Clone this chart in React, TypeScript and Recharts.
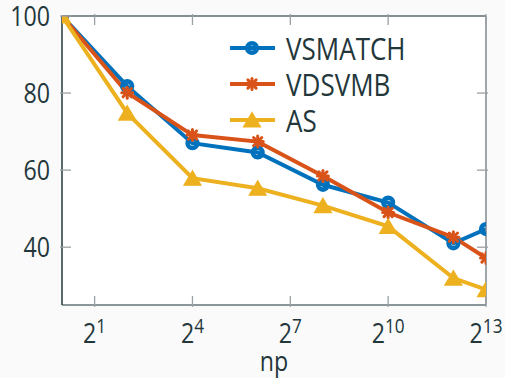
import React from "react";
import { LineChart, Line, XAxis, YAxis, CartesianGrid, Legend } from "recharts";

// np sweep (powers of two) and the three measured series
const npValues = [1, 4, 16, 64, 256, 1024, 4096, 8192];
const vsmatch = [100, 81.8, 67.0, 64.6, 56.2, 51.6, 41.0, 44.7];
const vdsvmb = [100, 80.1, 69.1, 67.4, 58.5, 49.0, 42.6, 37.2];
const asValues = [100, 74.8, 57.9, 55.3, 50.8, 45.4, 32.0, 29.0];

const xTicks = [2, 16, 128, 1024, 8192];
const yTicks = [40, 60, 80, 100];
const seriesNames = ["VSMATCH", "VDSVMB", "AS"];

const data = npValues.map((np, i) => ({
  np,
  vsmatch: vsmatch[i],
  vdsvmb: vdsvmb[i],
  as: asValues[i],
}));

const BLUE = "#0072BD";
const ORANGE = "#D95319";
const YELLOW = "#EDB120";
const TEXT = "#23373b";
const TICK = "#9aa0a3";
const FONT = "'Open Sans', sans-serif";
const SQUEEZE = 0.86;

const circleDot = (p: any) => (
  <circle key={`c-${p.index}`} cx={p.cx} cy={p.cy} r={4.8} fill="none" stroke={BLUE} strokeWidth={4.6} />
);

const starDot = (p: any) => {
  const { cx, cy } = p;
  const s = 5.5;
  const d = s * 0.75;
  return (
    <g key={`s-${p.index}`} stroke={ORANGE} strokeWidth={3} strokeLinecap="round">
      <line x1={cx - s} y1={cy} x2={cx + s} y2={cy} />
      <line x1={cx} y1={cy - s} x2={cx} y2={cy + s} />
      <line x1={cx - d} y1={cy - d} x2={cx + d} y2={cy + d} />
      <line x1={cx - d} y1={cy + d} x2={cx + d} y2={cy - d} />
    </g>
  );
};

const triangleDot = (p: any) => {
  const { cx, cy } = p;
  return (
    <polygon
      key={`t-${p.index}`}
      points={`${cx},${cy - 7.5} ${cx - 8.5},${cy + 7} ${cx + 8.5},${cy + 7}`}
      fill={YELLOW}
      stroke={YELLOW}
      strokeWidth={1.2}
    />
  );
};

function BottomTick({ x, y, payload }: any) {
  const exp = Math.round(Math.log2(payload.value));
  return (
    <g>
      <line x1={x} x2={x} y1={y} y2={y - 11} stroke={TICK} strokeWidth={1.3} />
      <text
        transform={`translate(${x},${y + 36}) scale(${SQUEEZE},1)`}
        textAnchor="middle"
        fill={TEXT}
        fontSize={27}
        fontFamily={FONT}
      >
        2
        <tspan fontSize={20} dy={-10}>
          {exp}
        </tspan>
      </text>
    </g>
  );
}

function TopTick({ x, y }: any) {
  return <line x1={x} x2={x} y1={y} y2={y + 11} stroke={TICK} strokeWidth={1.3} />;
}

function LeftTick({ x, y, payload }: any) {
  return (
    <g>
      <line x1={x} x2={x + 11} y1={y} y2={y} stroke={TICK} strokeWidth={1.3} />
      <text
        transform={`translate(${x - 10},${y + 10}) scale(${SQUEEZE},1)`}
        textAnchor="end"
        fill={TEXT}
        fontSize={27}
        fontFamily={FONT}
      >
        {payload.value}
      </text>
    </g>
  );
}

function RightTick({ x, y }: any) {
  return <line x1={x} x2={x - 11} y1={y} y2={y} stroke={TICK} strokeWidth={1.3} />;
}

const npLabel = ({ viewBox }: any) => (
  <text
    transform={`translate(${viewBox.x + viewBox.width / 2},${371}) scale(${SQUEEZE},1)`}
    textAnchor="middle"
    fill={TEXT}
    fontSize={27}
    fontFamily={FONT}
  >
    np
  </text>
);

const legendColors = [BLUE, ORANGE, YELLOW];
const legendMarks = [circleDot, starDot, triangleDot];

const renderLegend = () => (
  <svg width={230} height={115}>
    {seriesNames.map((name, i) => {
      const cy = 23 + i * 36;
      return (
        <g key={name}>
          <line x1={5} x2={50} y1={cy} y2={cy} stroke={legendColors[i]} strokeWidth={4} />
          {legendMarks[i]({ cx: 27, cy, index: i })}
          <text
            transform={`translate(61,${cy + 12}) scale(0.84,1)`}
            fill={TEXT}
            fontSize={31}
            fontFamily={FONT}
          >
            {name}
          </text>
        </g>
      );
    })}
  </svg>
);

export default function App() {
  return (
    <div style={{ position: "absolute", left: 0, top: 0, width: 505, height: 378, background: "#fafafa" }}>
      <LineChart width={505} height={378} data={data} margin={{ top: 15, right: 18, bottom: 0, left: 0 }}>
        <CartesianGrid horizontal={false} vertical={false} fill="#ffffff" />
        <XAxis
          dataKey="np"
          type="number"
          scale="log"
          domain={[1, 8192]}
          ticks={xTicks}
          allowDataOverflow
          height={73}
          tickSize={0}
          tickLine={false}
          tick={<BottomTick />}
          axisLine={{ stroke: "#66757b", strokeWidth: 1.5 }}
          label={{ content: npLabel }}
        />
        <XAxis
          xAxisId="top"
          orientation="top"
          dataKey="np"
          type="number"
          scale="log"
          domain={[1, 8192]}
          ticks={xTicks}
          allowDataOverflow
          height={1}
          tickSize={0}
          tickLine={false}
          tick={<TopTick />}
          axisLine={{ stroke: "#5c6a70", strokeWidth: 1.5 }}
        />
        <YAxis
          type="number"
          domain={[25, 100]}
          ticks={yTicks}
          allowDataOverflow
          width={62}
          tickSize={0}
          tickLine={false}
          tick={<LeftTick />}
          axisLine={{ stroke: TEXT, strokeWidth: 1.5 }}
        />
        <YAxis
          yAxisId="right"
          orientation="right"
          type="number"
          domain={[25, 100]}
          ticks={[40, 60, 80]}
          allowDataOverflow
          width={1}
          tickSize={0}
          tickLine={false}
          tick={<RightTick />}
          axisLine={{ stroke: "#7f888c", strokeWidth: 1.5 }}
        />
        <Legend
          layout="vertical"
          align="center"
          verticalAlign="middle"
          content={renderLegend}
          wrapperStyle={{ position: "absolute", left: 225, top: 25, width: 230, height: 115 }}
        />
        <Line dataKey="vsmatch" name={seriesNames[0]} stroke={BLUE} strokeWidth={4} dot={circleDot} activeDot={false} isAnimationActive={false} />
        <Line dataKey="vdsvmb" name={seriesNames[1]} stroke={ORANGE} strokeWidth={4} dot={starDot} activeDot={false} isAnimationActive={false} />
        <Line dataKey="as" name={seriesNames[2]} stroke={YELLOW} strokeWidth={4} dot={triangleDot} activeDot={false} isAnimationActive={false} />
      </LineChart>
    </div>
  );
}
